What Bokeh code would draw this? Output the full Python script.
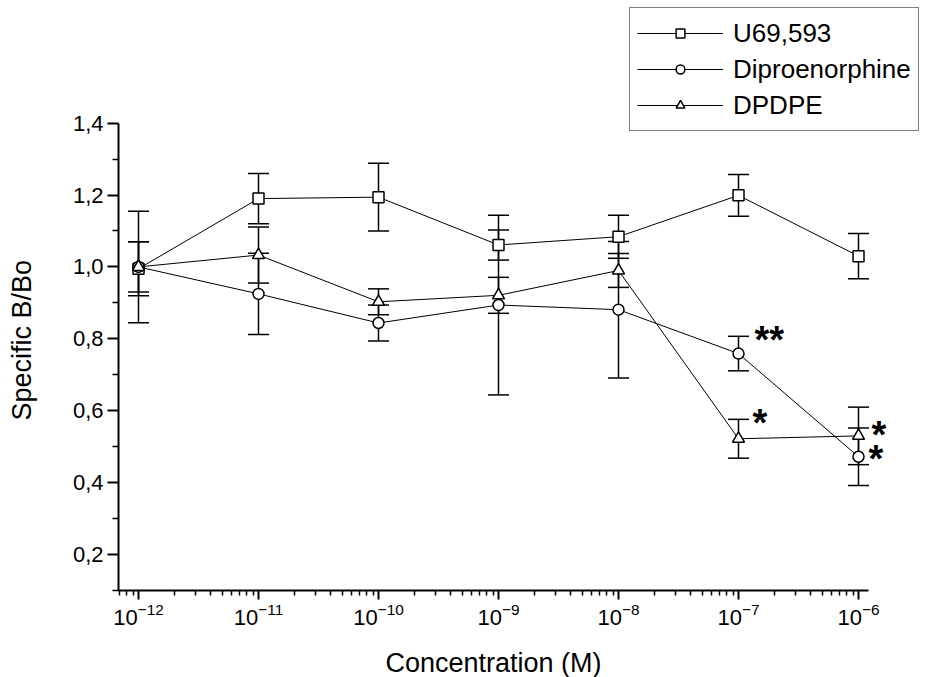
import numpy as np
from bokeh.plotting import figure
from bokeh.models import (Range1d, FixedTicker, CustomJSTickFormatter, Whisker, TeeHead,
                          ColumnDataSource, Legend, LegendItem, Title)
from bokeh.core.properties import value
from bokeh.embed import file_html
from bokeh.resources import INLINE

# Concentrations (M)
conc = [1e-12, 1e-11, 1e-10, 1e-9, 1e-8, 1e-7, 1e-6]

# Specific binding relative to control (B/Bo), mean and error
u69_mean = [0.995, 1.190, 1.194, 1.061, 1.084, 1.199, 1.030]
u69_err = [0.075, 0.070, 0.094, 0.042, 0.060, 0.058, 0.063]

dipro_mean = [1.000, 0.925, 0.844, 0.894, 0.881, 0.759, 0.472]
dipro_err = [0.155, 0.113, 0.050, 0.250, 0.190, 0.048, 0.080]

dpdpe_mean = [1.000, 1.033, 0.903, 0.921, 0.990, 0.522, 0.530]
dpdpe_err = [0.070, 0.078, 0.036, 0.050, 0.047, 0.054, 0.080]

series_names = ["U69,593", "Diproenorphine", "DPDPE"]

# Significance marks: (series index, concentration index, text)
sig_marks = [(1, 5, "**"), (2, 5, "*"), (2, 6, "*"), (1, 6, "*")]

y_ticks = [0.2, 0.4, 0.6, 0.8, 1.0, 1.2, 1.4]
y_minor = [0.1, 0.3, 0.5, 0.7, 0.9, 1.1, 1.3]
x_ticks = [1e-12, 1e-11, 1e-10, 1e-9, 1e-8, 1e-7, 1e-6]

x_title = "Concentration (M)"
y_title = "Specific B/Bo"

FONT = "Liberation Sans"

x_lo, x_hi = 10 ** -12.1667, 10 ** -5.4417
y_lo, y_hi = 0.1, 1.741

p = figure(width=925, height=677, x_axis_type="log",
           x_range=Range1d(x_lo, x_hi), y_range=Range1d(y_lo, y_hi),
           output_backend="svg", toolbar_location=None,
           min_border_left=118, min_border_right=0, min_border_top=0, min_border_bottom=87)
p.outline_line_color = None
p.xgrid.visible = False
p.ygrid.visible = False
p.background_fill_color = "white"
p.border_fill_color = "white"

# axes
minor_x = [k * 10.0 ** e for e in range(-13, -6) for k in range(2, 10)]
p.xaxis.ticker = FixedTicker(ticks=x_ticks, minor_ticks=minor_x)
p.xaxis.bounds = (x_lo, 1.2e-6)
p.yaxis.ticker = FixedTicker(ticks=y_ticks, minor_ticks=y_minor)
p.yaxis.bounds = (y_lo, 1.4)
p.yaxis.formatter = CustomJSTickFormatter(code="return tick.toFixed(1).replace('.', ',');")

for ax in (p.xaxis[0], p.yaxis[0]):
    ax.axis_line_width = 2
    ax.axis_line_color = "black"
    ax.major_tick_line_width = 2
    ax.minor_tick_line_width = 1.5
    ax.major_tick_line_color = "black"
    ax.minor_tick_line_color = "black"
    ax.major_tick_in = 0
    ax.minor_tick_in = 0
    ax.major_label_text_font = FONT
    ax.major_label_text_color = "black"

p.xaxis.major_tick_out = 9
p.xaxis.minor_tick_out = 5
p.xaxis.major_label_text_font_size = "22px"
p.xaxis.major_label_standoff = 3

p.yaxis.major_tick_out = 11
p.yaxis.minor_tick_out = 6
p.yaxis.major_label_text_font_size = "22px"
p.yaxis.major_label_standoff = 4


def gap(size):
    # blank side-panel entry that only reserves space between an axis and its title
    return Title(text=" ", text_font_size="1px", standoff=size)


# axis titles as side-panel titles so they can be shifted along the axes
p.add_layout(gap(15), "below")
p.add_layout(Title(text=x_title, align="left", offset=267, standoff=0,
                   vertical_align="bottom",
                   text_font=FONT, text_font_size="27px", text_font_style="normal",
                   text_color="black"), "below")
p.add_layout(gap(28), "left")
p.add_layout(Title(text=y_title, align="left", offset=170, standoff=0,
                   vertical_align="top",
                   text_font=FONT, text_font_size="27px", text_font_style="normal",
                   text_color="black"), "left")

markers = ["square", "circle", "triangle"]
sizes = [11, 11, 12]
means = [u69_mean, dipro_mean, dpdpe_mean]
errs = [u69_err, dipro_err, dpdpe_err]

items = []
for name, mk, sz, m, e in zip(series_names, markers, sizes, means, errs):
    m = np.array(m)
    e = np.array(e)
    src = ColumnDataSource(dict(x=conc, y=m, lo=m - e, hi=m + e))
    w = Whisker(source=src, base="x", lower="lo", upper="hi", dimension="height",
                line_color="black", line_width=1.5, level="underlay",
                upper_head=TeeHead(size=21, line_color="black", line_width=1.5),
                lower_head=TeeHead(size=21, line_color="black", line_width=1.5))
    p.add_layout(w)
    ln = p.line("x", "y", source=src, line_color="black", line_width=1)
    sc = p.scatter("x", "y", source=src, marker=mk, size=sz, line_color="black",
                   fill_color="white", line_width=1.5)
    items.append(LegendItem(label=name, renderers=[ln, sc]))

# significance asterisks next to the points
sx, sy, st, xo, yo = [], [], [], [], []
offsets = [(16, -13.5), (14, -15.5), (13, -0.5), (10, 2.5)]
for (si, ci, txt), (dx, dy) in zip(sig_marks, offsets):
    sx.append(conc[ci])
    sy.append(means[si][ci])
    st.append(txt)
    xo.append(dx)
    yo.append(dy)
p.text(x=sx, y=sy, text=st, x_offset=xo, y_offset=yo, text_font=value(FONT),
       text_font_style="bold", text_font_size="38px", text_align="left",
       text_baseline="middle", text_color="black")

legend = Legend(items=items, location=(511, 459), orientation="vertical",
                border_line_color="black", border_line_width=1.2,
                background_fill_color="white", background_fill_alpha=1,
                label_text_font=FONT, label_text_font_size="26px", label_text_color="black",
                glyph_width=86, glyph_height=22, label_height=36, label_standoff=10,
                padding=7, spacing=0, margin=0)
p.add_layout(legend)

open("out.html", "w").write(file_html(p, INLINE))
